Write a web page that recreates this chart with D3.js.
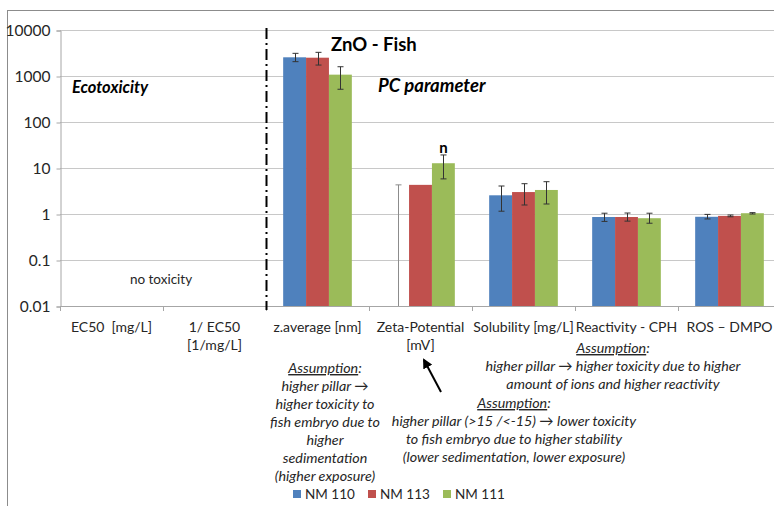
<!DOCTYPE html>
<html>
<head>
<meta charset="utf-8">
<script src="https://cdn.jsdelivr.net/npm/d3@7"></script>
<style>
  body { margin: 0; background: #fff; }
  svg { display: block; font-family: Lato, "Open Sans", sans-serif; }
  text { white-space: pre; }
</style>
</head>
<body>
<script>
// Data
var categories = ["EC50  [mg/L]", "1/ EC50|[1/mg/L]", "z.average [nm]", "Zeta-Potential|[mV]",
                  "Solubility [mg/L]", "Reactivity - CPH", "ROS \u2013 DMPO"];
var series = ["NM 110", "NM 113", "NM 111"];
var colors = ["#4F81BD", "#C0504D", "#9BBB59"];
var yTicks = [0.01, 0.1, 1, 10, 100, 1000, 10000];

// bar heights (null = not shown on log axis)
var nm110 = [null, null, 2550, null, 2.55, 0.86, 0.87];
var nm113 = [null, null, 2500, 4.3, 3.0, 0.86, 0.91];
var nm111 = [null, null, 1070, 12.7, 3.33, 0.81, 1.04];
// error bars: upper / lower ends
var nm110Hi = [null, null, 3110, 4.3, 4.06, 1.04, 0.98];
var nm110Lo = [null, null, 2050, 0.01, 1.15, 0.69, 0.78];
var nm113Hi = [null, null, 3270, null, 4.56, 1.05, 0.95];
var nm113Lo = [null, null, 1730, null, 1.57, 0.70, 0.87];
var nm111Hi = [null, null, 1590, 19.2, 5.04, 1.04, 1.07];
var nm111Lo = [null, null, 515, 5.8, 1.65, 0.63, 1.00];

var values = [nm110, nm113, nm111];
var his = [nm110Hi, nm113Hi, nm111Hi];
var los = [nm110Lo, nm113Lo, nm111Lo];

var w = 774, h = 506;
var padL = 60, padR = 781, padT = 30, padB = 306;

var svg = d3.select("body").append("svg")
  .attr("width", w).attr("height", h);

// outer frame
svg.append("rect")
  .attr("x", 7.5).attr("y", 10.5)
  .attr("width", 820).attr("height", 520)
  .attr("fill", "none").attr("stroke", "#8c8c8c").attr("stroke-width", 1);

var x = d3.scaleBand().domain(categories).range([padL, padR]).padding(0);
var bw = x.bandwidth();
var xs = d3.scaleBand().domain(series).range([bw / 6, bw * 5 / 6]);
var y = d3.scaleLog().domain([0.01, 10000]).range([padB, padT]);

// gridlines
svg.append("g").selectAll("line")
  .data(yTicks.slice(1))
  .enter().append("line")
  .attr("x1", padL).attr("x2", padR)
  .attr("y1", function(d) { return Math.round(y(d)) + 0.5; })
  .attr("y2", function(d) { return Math.round(y(d)) + 0.5; })
  .attr("stroke", "#c8c8c8");

// y axis
var yAxis = d3.axisLeft(y).tickValues(yTicks).tickFormat(d3.format("~g")).tickSize(4).tickPadding(6);
var gy = svg.append("g").attr("transform", "translate(" + (padL + 0.5) + ",0.5)").call(yAxis);
gy.select(".domain").attr("stroke", "#a6a6a6");
gy.selectAll(".tick line").attr("stroke", "#a6a6a6");
gy.selectAll("text").attr("font-size", 15.5).attr("font-family", "Lato, sans-serif").attr("fill", "#262626");

// bars
series.forEach(function(s, si) {
  svg.append("g").selectAll("rect")
    .data(categories.map(function(c, i) { return {c: c, v: values[si][i]}; })
      .filter(function(d) { return d.v != null; }))
    .enter().append("rect")
    .attr("x", function(d) { return x(d.c) + xs(s); })
    .attr("width", xs.bandwidth())
    .attr("y", function(d) { return y(d.v); })
    .attr("height", function(d) { return padB - y(d.v); })
    .attr("fill", colors[si]);
});

// error bars
series.forEach(function(s, si) {
  categories.forEach(function(c, i) {
    var hi = his[si][i], lo = los[si][i];
    if (hi == null) return;
    var cx = Math.round(x(c) + xs(s) + xs.bandwidth() / 2) + 0.5;
    var col = values[si][i] == null ? "#8c8c8c" : "#333";
    var g = svg.append("g").attr("stroke", col).attr("stroke-width", 1);
    g.append("line").attr("x1", cx).attr("x2", cx).attr("y1", y(hi)).attr("y2", y(lo));
    g.append("line").attr("x1", cx - 3).attr("x2", cx + 3).attr("y1", y(hi)).attr("y2", y(hi));
    if (values[si][i] != null)
      g.append("line").attr("x1", cx - 3).attr("x2", cx + 3).attr("y1", y(lo)).attr("y2", y(lo));
  });
});

// x axis line and ticks at category boundaries
svg.append("line")
  .attr("x1", padL).attr("x2", padR)
  .attr("y1", padB + 0.5).attr("y2", padB + 0.5)
  .attr("stroke", "#a6a6a6");
svg.append("g").selectAll("line")
  .data(categories)
  .enter().append("line")
  .attr("x1", function(d) { return Math.round(x(d)) + 0.5; })
  .attr("x2", function(d) { return Math.round(x(d)) + 0.5; })
  .attr("y1", padB).attr("y2", padB + 5)
  .attr("stroke", "#a6a6a6");

// category labels
var lab = svg.append("g").selectAll("text")
  .data(categories)
  .enter().append("text")
  .attr("x", function(d) { return x(d) + bw / 2; })
  .attr("y", 332)
  .attr("text-anchor", "middle")
  .attr("font-size", 14)
  .attr("fill", "#262626");
lab.each(function(d) {
  var parts = d.split("|");
  var t = d3.select(this);
  parts.forEach(function(p, k) {
    t.append("tspan").attr("x", x(d) + bw / 2).attr("dy", k === 0 ? 0 : 18).text(p);
  });
});

// dash-dot separator
var sepX = Math.round(x(categories[2])) + 0.5;
svg.append("line")
  .attr("x1", sepX).attr("x2", sepX)
  .attr("y1", 28).attr("y2", padB + 4)
  .attr("stroke", "#000").attr("stroke-width", 2)
  .attr("stroke-dasharray", "11,4,2,4");

// titles
svg.append("text").attr("x", 331).attr("y", 51)
  .attr("font-size", 18.5).attr("font-weight", "bold").attr("fill", "#000")
  .text("ZnO - Fish");
svg.append("text").attr("x", 72).attr("y", 93)
  .attr("font-size", 16.5).attr("font-weight", "bold").attr("font-style", "italic")
  .text("Ecotoxicity");
svg.append("text").attr("x", 378).attr("y", 92)
  .attr("font-size", 18.5).attr("font-weight", "bold").attr("font-style", "italic")
  .text("PC parameter");
svg.append("text").attr("x", 161).attr("y", 284)
  .attr("text-anchor", "middle").attr("font-size", 13.5).attr("fill", "#262626")
  .text("no toxicity");
svg.append("text")
  .attr("x", x(categories[3]) + xs("NM 111") + xs.bandwidth() / 2).attr("y", 153)
  .attr("text-anchor", "middle").attr("font-size", 15).attr("font-weight", "bold")
  .text("n");

// assumption notes
function note(cx, y0, lines) {
  var t = svg.append("text").attr("text-anchor", "middle")
    .attr("font-size", 14.3).attr("font-style", "italic").attr("fill", "#262626");
  lines.forEach(function(l, k) {
    var ts = t.append("tspan").attr("x", cx).attr("y", y0 + k * 18);
    if (k === 0) {
      ts.append("tspan").attr("text-decoration", "underline").text("Assumption");
      ts.append("tspan").text(":");
    } else {
      ts.text(l);
    }
  });
}
note(325, 373, ["Assumption:", "higher pillar \u2192", "higher toxicity to", "fish embryo due to",
                "higher", "sedimentation", "(higher exposure)"]);
note(613, 353, ["Assumption:", "higher pillar \u2192 higher toxicity due to higher",
                "amount of ions and higher reactivity"]);
note(514, 408, ["Assumption:", "higher pillar (>15 /<-15) \u2192 lower toxicity",
                "to fish embryo due to higher stability", "(lower sedimentation, lower exposure)"]);

// arrow
svg.append("defs").append("marker")
  .attr("id", "ah").attr("viewBox", "0 0 10 10").attr("refX", 8).attr("refY", 5)
  .attr("markerWidth", 5).attr("markerHeight", 5).attr("orient", "auto")
  .append("path").attr("d", "M0,0L10,5L0,10z").attr("fill", "#000");
svg.append("line")
  .attr("x1", 441).attr("y1", 392).attr("x2", 424).attr("y2", 360)
  .attr("stroke", "#000").attr("stroke-width", 2).attr("marker-end", "url(#ah)");

// legend
var legX = [293, 368, 443];
var leg = svg.append("g").selectAll("g")
  .data(series)
  .enter().append("g")
  .attr("transform", function(d, i) { return "translate(" + legX[i] + ",490)"; });
leg.append("rect").attr("width", 8).attr("height", 8)
  .attr("fill", function(d, i) { return colors[i]; });
leg.append("text").attr("x", 12).attr("y", 9)
  .attr("font-size", 13.5).attr("fill", "#262626")
  .text(function(d) { return d; });
</script>
</body>
</html>
